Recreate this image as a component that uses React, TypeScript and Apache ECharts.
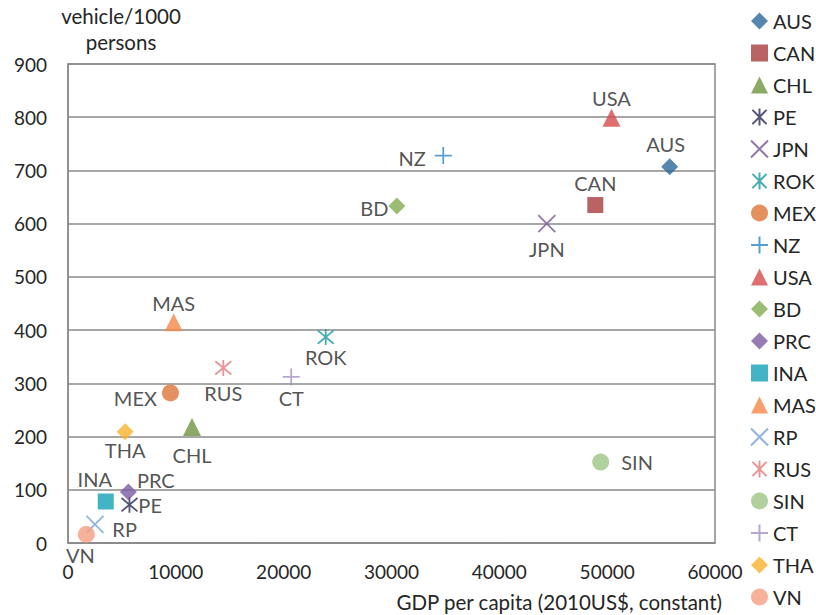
import React, { useEffect, useRef } from "react";
import * as echarts from "echarts";

const countries = ["AUS", "CAN", "CHL", "PE", "JPN", "ROK", "MEX", "NZ", "USA", "BD", "PRC", "INA", "MAS", "RP", "RUS", "SIN", "CT", "THA", "VN"];
const gdpPerCapita = [55800, 48900, 11500, 5700, 44400, 23900, 9500, 34800, 50400, 30500, 5600, 3500, 9800, 2500, 14400, 49400, 20700, 5300, 1700];
const vehiclesPer1000 = [707, 635, 218, 72, 600, 387, 282, 728, 799, 633, 96, 78, 415, 35, 329, 152, 312, 209, 16];
const xTicks = [0, 10000, 20000, 30000, 40000, 50000, 60000];
const yTicks = [0, 100, 200, 300, 400, 500, 600, 700, 800, 900];

const ASTER = "path://M0,1L10,11M10,1L0,11M5,0L5,12";
const CROSS = "path://M0,0L10,10M10,0L0,10";
const PLUS = "path://M5,0L5,10M0,5L10,5";

type Sty = { symbol: string; color: string; stroke?: boolean; size?: number; pos: string; dist?: number; off?: number[] };
const styles: Record<string, Sty> = {
  AUS: { symbol: "diamond", color: "#2C6699", pos: "top", dist: 4, off: [-4, 0] },
  CAN: { symbol: "rect", color: "#A93C3F", size: 16, pos: "top", dist: 4 },
  CHL: { symbol: "triangle", color: "#6F9440", size: 18, pos: "bottom", dist: 9 },
  PE: { symbol: ASTER, color: "#2A2A5A", stroke: true, size: 16, pos: "right", dist: 0 },
  JPN: { symbol: CROSS, color: "#75589A", stroke: true, pos: "bottom", dist: 6 },
  ROK: { symbol: ASTER, color: "#1A97A3", stroke: true, size: 16, pos: "bottom", dist: 1 },
  MEX: { symbol: "circle", color: "#DE7437", pos: "left", dist: 5, off: [0, 5] },
  NZ: { symbol: PLUS, color: "#2F86C6", stroke: true, pos: "left", dist: 8, off: [0, 2] },
  USA: { symbol: "triangle", color: "#D64B4D", size: 18, pos: "top", dist: 1 },
  BD: { symbol: "diamond", color: "#82AD50", pos: "left", dist: 0, off: [0, 2] },
  PRC: { symbol: "diamond", color: "#7A5BA2", pos: "right", dist: 0, off: [0, -12] },
  INA: { symbol: "rect", color: "#13A1B6", size: 16, pos: "top", dist: 4, off: [-11, 0] },
  MAS: { symbol: "triangle", color: "#F5884A", size: 18, pos: "top", dist: 0 },
  RP: { symbol: CROSS, color: "#76A3D6", stroke: true, pos: "right", dist: 8, off: [0, 5] },
  RUS: { symbol: ASTER, color: "#E57A7D", stroke: true, size: 16, pos: "bottom", dist: 6 },
  SIN: { symbol: "circle", color: "#9CC486", pos: "right", dist: 12 },
  CT: { symbol: PLUS, color: "#A590C6", stroke: true, pos: "bottom", dist: 2 },
  THA: { symbol: "diamond", color: "#F8B12C", pos: "bottom", dist: 0 },
  VN: { symbol: "circle", color: "#F59E80", pos: "bottom", dist: 2, off: [-6, 0] },
};

const FONT = "Lato";
const TXT = "#262626";
const NAME_SIZE = 20.5;

export default function App() {
  const ref = useRef<HTMLDivElement>(null);
  useEffect(() => {
    if (!ref.current) return;
    const chart = echarts.init(ref.current, null, { renderer: "svg" });
    const series = countries.map((c, i) => {
      const s = styles[c];
      return {
        name: c,
        type: "scatter",
        symbol: s.symbol,
        symbolSize: s.size ?? 17,
        itemStyle: s.stroke
          ? { color: "rgba(0,0,0,0)", borderColor: s.color, borderWidth: 1.8 }
          : { color: s.color },
        label: {
          show: true,
          formatter: c,
          position: s.pos,
          distance: s.dist ?? 5,
          offset: s.off ?? [0, 0],
          color: TXT,
          fontFamily: FONT,
          fontSize: 20,
        },
        data: [[gdpPerCapita[i], vehiclesPer1000[i]]],
      };
    });
    chart.setOption({
      animation: false,
      backgroundColor: "#fff",
      textStyle: { fontFamily: FONT },
      grid: { left: 68, right: 101, top: 64, bottom: 72, show: true, borderColor: "#8a8a8a", borderWidth: 1.5, outerBoundsMode: "none", containLabel: false },
      legend: {
        orient: "vertical",
        left: 750,
        top: 11,
        itemWidth: 17,
        itemHeight: 17,
        itemGap: 12,
        padding: 0,
        textStyle: { color: TXT, fontFamily: FONT, fontSize: 20, lineHeight: 20, padding: [0, 0, 0, 0] },
        data: countries,
      },
      xAxis: {
        type: "value",
        min: xTicks[0],
        max: xTicks[xTicks.length - 1],
        interval: 10000,
        name: "GDP per capita (2010US$, constant)",
        nameLocation: "end",
        nameGap: 7,
        nameTextStyle: { color: TXT, fontFamily: FONT, fontSize: NAME_SIZE, align: "right", verticalAlign: "top", padding: [48, 0, 0, 0] },
        axisLine: { show: true, lineStyle: { color: "#8a8a8a", width: 1.5 } },
        axisTick: { show: false },
        splitLine: { show: false },
        axisLabel: { color: TXT, fontFamily: FONT, fontSize: 19, margin: 19, formatter: (v: number) => String(v) },
      },
      yAxis: {
        type: "value",
        min: yTicks[0],
        max: yTicks[yTicks.length - 1],
        interval: 100,
        name: "vehicle/1000\npersons",
        nameLocation: "end",
        nameGap: 4,
        nameTextStyle: { color: TXT, fontFamily: FONT, fontSize: NAME_SIZE, lineHeight: 26, align: "center", padding: [0, 0, 0, 106] },
        axisLine: { show: true, lineStyle: { color: "#8a8a8a", width: 1.5 } },
        axisTick: { show: false },
        splitLine: { show: true, lineStyle: { color: "#8a8a8a", width: 1.5 } },
        axisLabel: { color: TXT, fontFamily: FONT, fontSize: 19, margin: 21, formatter: (v: number) => String(v) },
      },
      series,
    });
    return () => chart.dispose();
  }, []);
  return <div ref={ref} style={{ width: 816, height: 615, position: "absolute", left: 0, top: 0 }} />;
}
